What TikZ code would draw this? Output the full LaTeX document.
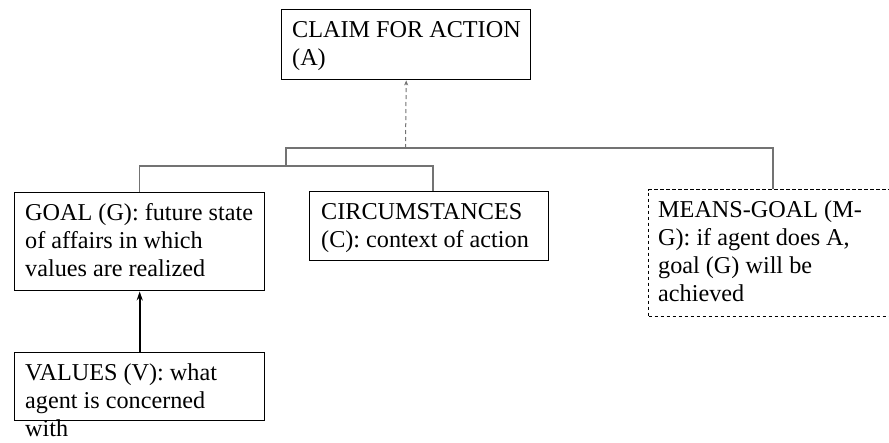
\documentclass[tikz,border=0pt]{standalone}
\usepackage{fontspec}
\setmainfont{Liberation Serif}
\usetikzlibrary{arrows.meta}
\begin{document}
\begin{tikzpicture}[x=1pt,y=-1pt,
  box/.style={draw=black,line width=1.4pt,rectangle,inner sep=0pt,anchor=north west},
  dbox/.style={box,line width=1.3pt,dash pattern=on 3.5pt off 2.5pt},
  txt/.style={anchor=north west,inner sep=0pt,align=left,font=\fontsize{24.2}{28}\selectfont},
  tree/.style={draw=black!55,line width=1.2pt},
  dasharrow/.style={draw=black!55,line width=1pt,dash pattern=on 4pt off 3pt,-{Stealth[length=5pt,width=4pt]}},
  solidarrow/.style={draw=black,line width=2pt,-{Stealth[length=9pt,width=6pt]}},
]
\clip (0,0) rectangle (889,442);
\fill[white] (0,0) rectangle (889,442);

\node[box,minimum width=249pt,minimum height=70pt] (claim) at (281,9) {};
\node[txt] (claimt) at (292,17.9) {\strut CLAIM FOR ACTION\\\strut (A)};

\node[box,minimum width=250pt,minimum height=98pt] (goal) at (14,192) {};
\node[txt] (goalt) at (25,200.9) {\strut GOAL (G): future state\\\strut of affairs in which\\\strut values are realized};

\node[box,minimum width=239pt,minimum height=69pt] (circ) at (309,191) {};
\node[txt] (circt) at (321,199.9) {\strut CIRCUMSTANCES\\\strut (C): context of action};

\node[dbox,minimum width=250pt,minimum height=127pt] (means) at (648,189) {};
\node[txt] (meanst) at (658,197.9) {\strut MEANS-GOAL (M-\\\strut G): if agent does A,\\\strut goal (G) will be\\\strut achieved};

\node[box,minimum width=250pt,minimum height=68pt] (values) at (14,352) {};
\node[txt] (valuest) at (25,360.9) {\strut VALUES (V): what\\\strut agent is concerned\\\strut with};

\coordinate (hL) at (286,148);
\coordinate (hR) at (773,148);
\coordinate (hM) at (405.5,148);
\coordinate (lM) at (286,166);
\coordinate (lR) at (433,166);

\draw[tree] (goal.north) |- (lR) -- (lR |- circ.north);
\draw[tree] (lM) -- (hL) -- (hR) -- (hR |- means.north);
\draw[dasharrow] (hM) -- (claim.south);
\draw[solidarrow] (values.north) -- (goal.south);
\end{tikzpicture}
\end{document}
